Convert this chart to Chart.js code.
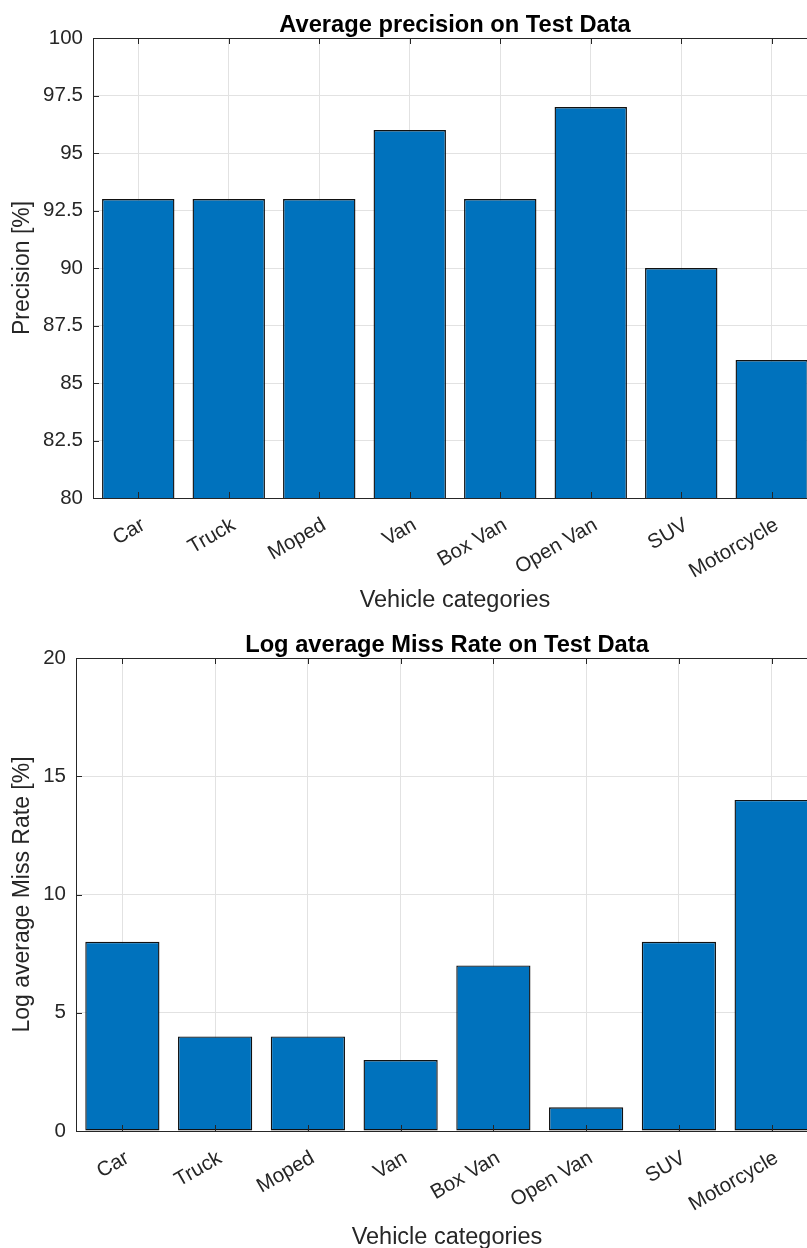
<!DOCTYPE html>
<html>
<head>
<meta charset="utf-8">
<title>Vehicle detection results</title>
<script src="https://cdn.jsdelivr.net/npm/chart.js@4.4.1/dist/chart.umd.min.js"></script>
<style>
  html, body { margin: 0; padding: 0; background: #fff; overflow: hidden; }
  canvas { position: absolute; left: 0; }
  #precisionChart { top: 0; }
  #missRateChart { top: 620px; }
</style>
</head>
<body>
<canvas id="precisionChart" width="830" height="630"></canvas>
<canvas id="missRateChart" width="830" height="650"></canvas>
<script>
const categories = ["Car", "Truck", "Moped", "Van", "Box Van", "Open Van", "SUV", "Motorcycle"];
const precision = [93, 93, 93, 96, 93, 97, 90, 86];
const missRate = [8, 4, 4, 3, 7, 1, 8, 14];

const barColor = "#0072BD";
const edgeColor = "#111111";
const axisColor = "#262626";
const gridColor = "#e2e2e2";
const fontFamily = "'Liberation Sans', Arial, Helvetica, sans-serif";

// matlab style axes: full box plus short tick marks pointing inwards
const boxTicks = {
  id: "boxTicks",
  afterDatasetsDraw(chart) {
    const { ctx, chartArea: a, scales: { x, y } } = chart;
    ctx.save();
    ctx.strokeStyle = axisColor;
    ctx.lineWidth = 1;
    ctx.beginPath();
    x.ticks.forEach((t, i) => {
      const px = Math.round(x.getPixelForTick(i)) + 0.5;
      ctx.moveTo(px, a.bottom);
      ctx.lineTo(px, a.bottom - 6);
      ctx.moveTo(px, a.top);
      ctx.lineTo(px, a.top + 6);
    });
    y.ticks.forEach((t, i) => {
      const py = Math.round(y.getPixelForTick(i)) + 0.5;
      ctx.moveTo(a.left, py);
      ctx.lineTo(a.left + 6, py);
      ctx.moveTo(a.right, py);
      ctx.lineTo(a.right - 6, py);
    });
    ctx.stroke();
    ctx.strokeRect(Math.round(a.left) + 0.5, Math.round(a.top) + 0.5,
      Math.round(a.right - a.left), Math.round(a.bottom - a.top));
    ctx.restore();
  },
};

function makeChart(id, opts) {
  const ctx = document.getElementById(id).getContext("2d");
  return new Chart(ctx, {
    type: "bar",
    data: {
      labels: categories,
      datasets: [{
        data: opts.values,
        backgroundColor: barColor,
        borderColor: edgeColor,
        borderWidth: 1.4,
        borderSkipped: false,
        categoryPercentage: 0.8,
        barPercentage: 1.0,
      }],
    },
    plugins: [boxTicks],
    options: {
      responsive: false,
      animation: false,
      layout: { padding: { left: 0, right: opts.padRight, top: 0, bottom: 0 } },
      plugins: {
        legend: { display: false },
        tooltip: { enabled: false },
        title: {
          display: true,
          text: opts.title,
          fullSize: false,
          color: "#000",
          font: { family: fontFamily, size: 23.7, weight: "bold", lineHeight: "26px" },
          padding: { top: 12, bottom: 0 },
        },
      },
      scales: {
        x: {
          afterFit(scale) { scale.height = opts.xHeight; },
          grid: { color: gridColor, offset: false, drawTicks: false },
          border: { display: false },
          ticks: {
            color: axisColor,
            font: { family: fontFamily, size: 20.5 },
            minRotation: 30,
            maxRotation: 30,
            padding: 15,
            labelOffset: 5,
          },
          title: {
            display: true,
            text: "Vehicle categories",
            color: axisColor,
            font: { family: fontFamily, size: 23.5, lineHeight: "26px" },
            padding: { top: 0, bottom: opts.xTitlePad },
          },
        },
        y: {
          min: opts.min,
          max: opts.max,
          afterFit(scale) { scale.width = opts.yWidth; },
          grid: { color: gridColor, drawTicks: false },
          border: { display: false },
          ticks: {
            stepSize: opts.step,
            color: axisColor,
            font: { family: fontFamily, size: 20.5 },
            padding: 10,
          },
          title: {
            display: true,
            text: opts.yLabel,
            color: axisColor,
            font: { family: fontFamily, size: 23, lineHeight: "26px" },
            padding: { top: 10, bottom: 0 },
          },
        },
      },
    },
  });
}

makeChart("precisionChart", {
  values: precision,
  title: "Average precision on Test Data",
  yLabel: "Precision [%]",
  min: 80, max: 100, step: 2.5,
  yWidth: 93, xHeight: 132, xTitlePad: 16, padRight: 13,
});

makeChart("missRateChart", {
  values: missRate,
  title: "Log average Miss Rate on Test Data",
  yLabel: "Log average Miss Rate [%]",
  min: 0, max: 20, step: 5,
  yWidth: 76, xHeight: 139, xTitlePad: 19, padRight: 12,
});
</script>
</body>
</html>
